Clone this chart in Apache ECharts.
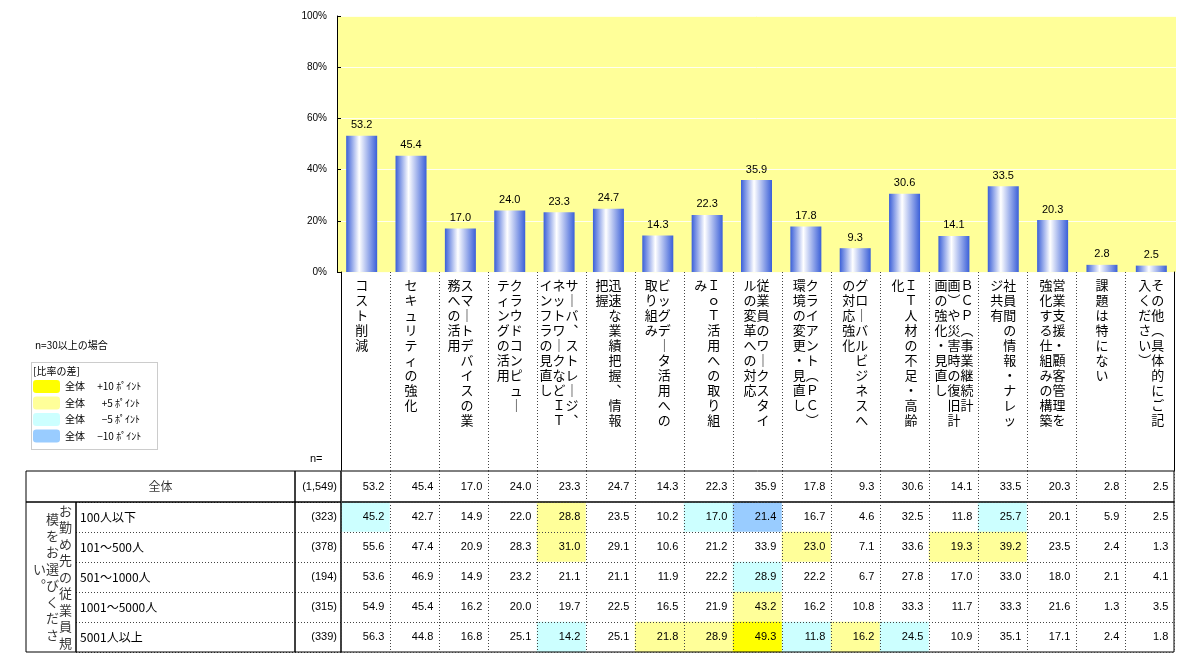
<!DOCTYPE html>
<html><head><meta charset="utf-8">
<script src="https://cdn.jsdelivr.net/npm/echarts@6/dist/echarts.min.js"></script>
<style>html,body{margin:0;padding:0;background:#fff}#c{width:1203px;height:671px}</style>
</head><body><div id="c"></div>
<script>
// ---- data ----
const categories = [
  ['コスト削減'],
  ['セキュリティの強化'],
  ['スマートデバイスの業','務への活用'],
  ['クラウドコンピュー','ティングの活用'],
  ['サーバ、ストレージ、','ネットワークなどＩＴ','インフラの見直し'],
  ['迅速な業績把握、情報','把握'],
  ['ビッグデータ活用への','取り組み'],
  ['ＩｏＴ活用への取り組','み'],
  ['従業員のワークスタイ','ルの変革への対応'],
  ['クライアント（ＰＣ）','環境の変更・見直し'],
  ['グローバルビジネスへ','の対応強化'],
  ['ＩＴ人材の不足・高齢','化'],
  ['ＢＣＰ（事業継続計','画）や災害時の復旧計','画の強化・見直し'],
  ['社員間の情報・ナレッ','ジ共有'],
  ['営業支援・顧客管理を','強化する仕組みの構築'],
  ['課題は特にない'],
  ['その他（具体的にご記','入ください）']
];
const totalValues = [53.2,45.4,17.0,24.0,23.3,24.7,14.3,22.3,35.9,17.8,9.3,30.6,14.1,33.5,20.3,2.8,2.5];
const rowLabels = ['全体','100人以下','101～500人','501～1000人','1001～5000人','5001人以上'];
const nTotal = 1549;
const nValues = [323,378,194,315,339];
const row100 = [45.2,42.7,14.9,22.0,28.8,23.5,10.2,17.0,21.4,16.7,4.6,32.5,11.8,25.7,20.1,5.9,2.5];
const row500 = [55.6,47.4,20.9,28.3,31.0,29.1,10.6,21.2,33.9,23.0,7.1,33.6,19.3,39.2,23.5,2.4,1.3];
const row1000 = [53.6,46.9,14.9,23.2,21.1,21.1,11.9,22.2,28.9,22.2,6.7,27.8,17.0,33.0,18.0,2.1,4.1];
const row5000 = [54.9,45.4,16.2,20.0,19.7,22.5,16.5,21.9,43.2,16.2,10.8,33.3,11.7,33.3,21.6,1.3,3.5];
const row5001 = [56.3,44.8,16.8,25.1,14.2,25.1,21.8,28.9,49.3,11.8,16.2,24.5,10.9,35.1,17.1,2.4,1.8];
const groupLabelCols = ['お勤め先の従業員規','模をお選びくださ','い。'];
const yTicks = [0,20,40,60,80,100];

// ---- helpers ----
const JP = "'Noto Sans CJK JP', sans-serif";
const NUM = "'Liberation Sans Narrow', 'Liberation Sans', Arial, sans-serif";
const VERT = {'ー':'｜','（':'︵','）':'︶','、':'︑','。':'︒'};
function vertical(cols){
  const arr = cols.map(c => [...c].map(ch => VERT[ch] || ch));
  const n = Math.max(...arr.map(a => a.length));
  const lines = [];
  for (let i = 0; i < n; i++) {
    let s = '';
    for (let j = arr.length - 1; j >= 0; j--) s += arr[j][i] || '　';
    lines.push(s);
  }
  return lines.join('\n');
}
const catNames = categories.map(c => c.join(''));
const bodyRows = [row100,row500,row1000,row5000,row5001];
const diff = (v,t) => Math.round((v - t) * 10) / 10;
const headData = totalValues.map((v,i) => [i,0,v,0]);
const bodyData = [];
bodyRows.forEach((r,ri) => r.forEach((v,ci) => bodyData.push([ci,ri,v,diff(v,totalValues[ci])])));

const border = {show:true, borderColor:'#000', borderWidth:1, z:5};
const hiddenVal = g => ({type:'value', gridIndex:g, show:false});
const dotted = {show:true, interval:0, lineStyle:{color:'#444', type:[1,2], width:1}};
const cellLabel = {show:true, position:'insideRight', distance:6, formatter:p => p.value[2].toFixed(1),
  fontFamily:NUM, fontSize:11, color:'#000'};

const option = {
  animation:false,
  textStyle:{fontFamily:JP},
  title:[
    {text:'n=30以上の場合', left:35, top:340, padding:0, textStyle:{fontSize:10, fontWeight:'normal', fontFamily:JP, color:'#000'}},
    {text:'[比率の差]', left:33, top:366, padding:0, textStyle:{fontSize:10, fontWeight:'normal', fontFamily:JP, color:'#000'}},
    {text:'n=', left:310, top:453, padding:0, textStyle:{fontSize:11, fontWeight:'normal', fontFamily:NUM, color:'#000'}}
  ],
  graphic:[{type:'rect', left:29, top:360, shape:{width:126, height:87}, style:{fill:'none', stroke:'#999', lineDash:[1,1]}, silent:true}],
  visualMap:{
    type:'piecewise', seriesIndex:[1,2], dimension:3, orient:'vertical',
    left:33, top:380, padding:0, itemWidth:27, itemHeight:13, itemGap:3.5, textGap:5,
    selectedMode:false, hoverLink:false,
    textStyle:{fontSize:10, color:'#000', fontFamily:JP},
    pieces:[
      {lte:-10, color:'#99CCFF', label:'全体　 −10 ﾎﾟｲﾝﾄ'},
      {gt:-10, lte:-5, color:'#CCFFFF', label:'全体　   −5 ﾎﾟｲﾝﾄ'},
      {gte:5, lt:10, color:'#FFFF99', label:'全体　   +5 ﾎﾟｲﾝﾄ'},
      {gte:10, color:'#FFFF00', label:'全体　 +10 ﾎﾟｲﾝﾄ'}
    ],
    outOfRange:{color:'#FFFFFF'}
  },
  grid:[
    {left:337, right:27, top:16, bottom:399, show:true, backgroundColor:'#FFFF99', borderWidth:0}, //0 bars
    Object.assign({left:341, right:29, top:471, height:31}, border), //1 head data
    Object.assign({left:341, right:29, top:502, bottom:19}, border), //2 body data
    Object.assign({left:26, width:269, top:471, height:31}, border), //3 全体 label
    Object.assign({left:295, width:46, top:471, height:31}, border), //4 total n
    Object.assign({left:26, width:50, top:502, bottom:19}, border), //5 group cell
    Object.assign({left:76, width:219, top:502, bottom:19}, border), //6 row labels
    Object.assign({left:295, width:46, top:502, bottom:19}, border), //7 n values
    {left:341, right:29, top:272, height:199, show:false}, //8 category label area
    {left:33, width:39, top:502, bottom:19, show:false} //9 group text
  ],
  xAxis:[
    {type:'category', gridIndex:0, data:catNames, axisLine:{show:false}, axisTick:{show:false},
      axisLabel:{interval:0, margin:6, formatter:(v,i) => vertical(categories[i]), fontFamily:JP, fontSize:13, lineHeight:15, color:'#000'}},
    {type:'category', gridIndex:1, data:catNames, axisLine:{show:false}, axisTick:{show:false}, axisLabel:{show:false}, splitLine:dotted, z:6},
    {type:'category', gridIndex:2, data:catNames, axisLine:{show:false}, axisTick:{show:false}, axisLabel:{show:false}, splitLine:dotted, z:6},
    {type:'category', gridIndex:3, data:[rowLabels[0]], show:false},
    hiddenVal(4), hiddenVal(5), hiddenVal(6), hiddenVal(7),
    {type:'category', gridIndex:8, data:catNames, axisLine:{show:false}, axisTick:{show:false}, axisLabel:{show:false}, splitLine:dotted},
    {type:'category', gridIndex:9, data:groupLabelCols, inverse:true, show:false}
  ],
  yAxis:[
    {type:'value', gridIndex:0, min:yTicks[0], max:yTicks[yTicks.length-1], interval:20,
      axisLine:{show:true, lineStyle:{color:'#000'}}, axisTick:{show:true, inside:true, length:4, lineStyle:{color:'#000'}},
      axisLabel:{formatter:'{value}%', margin:10, fontFamily:NUM, fontSize:10, color:'#000'},
      splitLine:{lineStyle:{color:'#FFFFF0', width:1}}},
    {type:'category', gridIndex:1, data:[rowLabels[0]], show:false},
    {type:'category', gridIndex:2, data:rowLabels.slice(1), inverse:true, axisLine:{show:false}, axisTick:{show:false}, axisLabel:{show:false}, splitLine:dotted, z:6},
    {type:'category', gridIndex:3, data:['a'], show:false},
    {type:'category', gridIndex:4, data:['(' + nTotal.toLocaleString('en-US') + ')'], position:'right',
      axisLine:{show:false}, axisTick:{show:false}, axisLabel:{inside:true, margin:4, fontFamily:NUM, fontSize:11, color:'#000'}},
    hiddenVal(5),
    {type:'category', gridIndex:6, data:rowLabels.slice(1), inverse:true, position:'left',
      axisLine:{show:false}, axisTick:{show:false}, splitLine:dotted,
      axisLabel:{inside:true, margin:4, fontFamily:JP, fontSize:12, color:'#000'}},
    {type:'category', gridIndex:7, data:nValues.map(n => '(' + n + ')'), inverse:true, position:'right',
      axisLine:{show:false}, axisTick:{show:false}, splitLine:dotted,
      axisLabel:{inside:true, margin:4, fontFamily:NUM, fontSize:11, color:'#000'}},
    {type:'value', gridIndex:8, position:'left', axisLine:{show:true, lineStyle:{color:'#000'}}, axisTick:{show:false}, axisLabel:{show:false}, splitLine:{show:false}},
    {type:'value', gridIndex:8, position:'right', axisLine:{show:true, lineStyle:{color:'#000'}}, axisTick:{show:false}, axisLabel:{show:false}, splitLine:{show:false}},
    {type:'category', gridIndex:9, data:['g'], show:false}
  ],
  series:[
    {type:'bar', xAxisIndex:0, yAxisIndex:0, data:totalValues, barWidth:31,
      itemStyle:{color:{type:'linear', x:0, y:0, x2:1, y2:0, colorStops:[
        {offset:0, color:'#3a5fd8'}, {offset:0.42, color:'#ffffff'}, {offset:1, color:'#3a5fd8'}]}},
      label:{show:true, position:'top', distance:5, formatter:p => p.value.toFixed(1), fontFamily:NUM, fontSize:11, color:'#000'}},
    {type:'heatmap', xAxisIndex:1, yAxisIndex:1, data:headData, label:cellLabel, emphasis:{disabled:true}},
    {type:'heatmap', xAxisIndex:2, yAxisIndex:2, data:bodyData, label:cellLabel, emphasis:{disabled:true}},
    {type:'scatter', xAxisIndex:3, yAxisIndex:3, data:[[0,0]], symbolSize:0, silent:true,
      label:{show:true, position:'inside', formatter:() => rowLabels[0], fontFamily:JP, fontSize:12, color:'#000'}},
    {type:'scatter', xAxisIndex:9, yAxisIndex:10, data:groupLabelCols.map((c,i) => [i,0]), symbolSize:0, silent:true,
      label:{show:true, position:'inside', formatter:p => vertical([groupLabelCols[p.dataIndex]]), fontFamily:JP, fontSize:13, lineHeight:16.5, color:'#000'}}
  ]
};
const chart = echarts.init(document.getElementById('c'));
chart.setOption(option);
</script></body></html>
